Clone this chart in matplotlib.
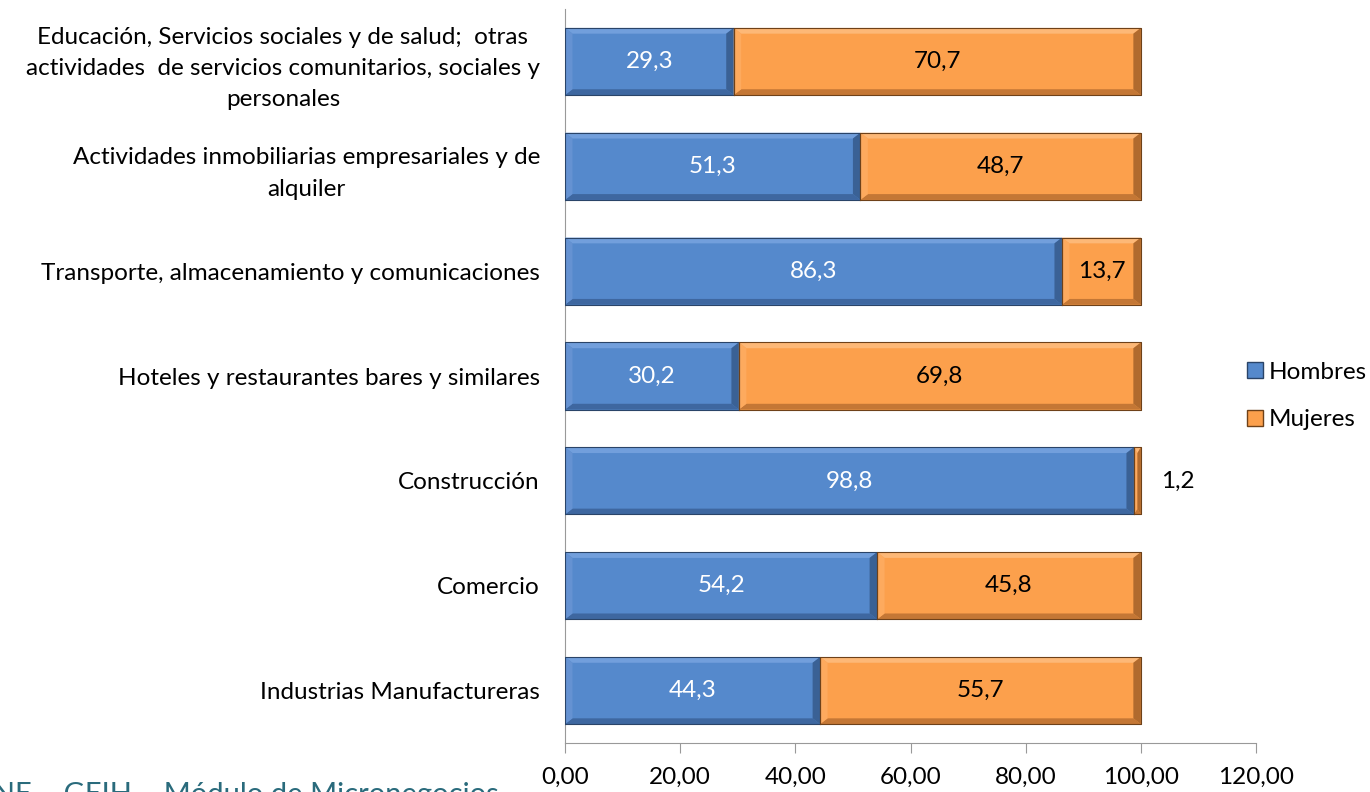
import matplotlib.pyplot as plt
from matplotlib.lines import Line2D
from matplotlib.patches import Polygon

plt.rcParams['font.family'] = ['Lato', 'DejaVu Sans']

# categories listed bottom to top
sectores = [
    "Industrias Manufactureras",
    "Comercio",
    "Construcción",
    "Hoteles y restaurantes bares y similares",
    "Transporte, almacenamiento y comunicaciones",
    "Actividades inmobiliarias empresariales y de\nalquiler",
    "Educación, Servicios sociales y de salud;  otras\nactividades  de servicios comunitarios, sociales y\npersonales",
]
hombres = [44.3, 54.2, 98.8, 30.2, 86.3, 51.3, 29.3]
mujeres = [55.7, 45.8, 1.2, 69.8, 13.7, 48.7, 70.7]
xticks = [0, 20, 40, 60, 80, 100, 120]

azul = '#5589CC'
naranja = '#FCA04C'
# bevel shades: top, bottom, left, right, edge
tonos = {
    azul: ('#729FDC', '#3E67A0', '#6592D2', '#3A6195', '#2A4468'),
    naranja: ('#FDB877', '#C47735', '#FDAA5E', '#B06A2E', '#6E4119'),
}
FS = 17.5

fig = plt.figure(figsize=(13.7, 7.92), dpi=100)
ax = fig.add_axes([0.4124, 0.0619, 0.5044, 0.9267])

alto = 0.64


def bisel(ax, x0, ancho, yc, color):
    # fake the Excel bevel with four trapezoids
    top, bot, izq, der, borde = tonos[color]
    y0, y1 = yc - alto / 2, yc + alto / 2
    x1 = x0 + ancho
    dx = min(1.3, ancho / 2)
    dy = 0.055
    caras = [
        ([(x0, y1), (x1, y1), (x1 - dx, y1 - dy), (x0 + dx, y1 - dy)], top),
        ([(x0, y0), (x1, y0), (x1 - dx, y0 + dy), (x0 + dx, y0 + dy)], bot),
        ([(x0, y0), (x0, y1), (x0 + dx, y1 - dy), (x0 + dx, y0 + dy)], izq),
        ([(x1, y0), (x1, y1), (x1 - dx, y1 - dy), (x1 - dx, y0 + dy)], der),
    ]
    for pts, c in caras:
        ax.add_patch(Polygon(pts, closed=True, facecolor=c, edgecolor='none', zorder=3))
    ax.plot([x0, x1, x1, x0, x0], [y0, y0, y1, y1, y0], color=borde, lw=0.8, zorder=4)


y = list(range(len(sectores)))
ax.barh(y, hombres, height=alto, color=azul, linewidth=0, zorder=2)
ax.barh(y, mujeres, left=hombres, height=alto, color=naranja, linewidth=0, zorder=2)
for i in y:
    bisel(ax, 0, hombres[i], i, azul)
    bisel(ax, hombres[i], mujeres[i], i, naranja)


def fmt(v):
    return f"{v:.1f}".replace('.', ',')


for i in y:
    h, m = hombres[i], mujeres[i]
    ax.text(h / 2, i, fmt(h), ha='center', va='center', color='white', fontsize=FS, zorder=5)
    if m < 5:
        ax.text(h + m + 6.5, i, fmt(m), ha='center', va='center', color='black', fontsize=FS, zorder=5)
    else:
        ax.text(h + m / 2, i, fmt(m), ha='center', va='center', color='black', fontsize=FS, zorder=5)

ax.set_xlim(0, 120)
ax.set_ylim(-0.5, len(sectores) - 0.5)
ax.set_xticks(xticks)
ax.set_xticklabels([f"{t:.2f}".replace('.', ',') for t in xticks], fontsize=FS)
ax.set_yticks(y)
ax.set_yticklabels(sectores, fontsize=FS, multialignment='center', linespacing=1.6)
ax.tick_params(axis='y', length=0, pad=18)
ax.tick_params(axis='x', length=7, color='#999999', pad=10)

for s in ['top', 'right']:
    ax.spines[s].set_visible(False)
ax.spines['left'].set_color('#999999')
ax.spines['bottom'].set_color('#999999')

handles = [
    Line2D([], [], marker='s', linestyle='', markersize=11, markerfacecolor=azul, markeredgecolor='#2A4468'),
    Line2D([], [], marker='s', linestyle='', markersize=11, markerfacecolor=naranja, markeredgecolor='#6E4119'),
]
fig.legend(handles, ['Hombres', 'Mujeres'], loc='center left', bbox_to_anchor=(0.909, 0.5),
           frameon=False, fontsize=FS, handlelength=0.8, handletextpad=0.15, labelspacing=1.1,
           borderaxespad=0, borderpad=0)

fig.text(-0.036, -0.014, "DANE – GEIH – Módulo de Micronegocios", color='#2A6B7C', fontsize=21,
         ha='left', va='baseline')

fig.savefig('out.png', dpi=100)
